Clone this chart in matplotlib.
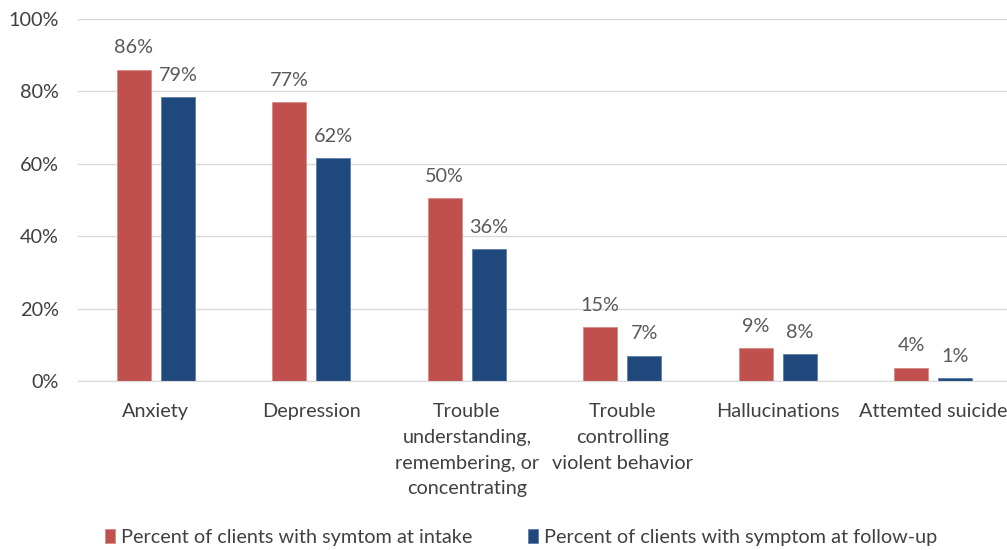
import matplotlib
matplotlib.use("Agg")
import matplotlib.pyplot as plt
import numpy as np

categories = ["Anxiety", "Depression",
              "Trouble\nunderstanding,\nremembering, or\nconcentrating",
              "Trouble\ncontrolling\nviolent behavior",
              "Hallucinations", "Attemted suicide"]
intake = [0.86, 0.77, 0.505, 0.15, 0.09, 0.037]
followup = [0.785, 0.615, 0.365, 0.07, 0.075, 0.007]
intake_labels = ["86%", "77%", "50%", "15%", "9%", "4%"]
followup_labels = ["79%", "62%", "36%", "7%", "8%", "1%"]
series_names = ["Percent of clients with symtom at intake",
                "Percent of clients with symptom at follow-up"]

red = "#C0504D"
blue = "#1F497D"
gray = "#595959"
dark = "#404040"
plt.rcParams['font.family'] = ['Lato', 'DejaVu Sans']
fs = 14.3

fig = plt.figure(figsize=(10.07, 5.5), dpi=100)
ax = fig.add_axes([78/1007, 1-381/550, 933/1007, 362/550])

x = np.arange(len(categories))
w = 0.22
off = 0.142
b1 = ax.bar(x - off, intake, w, color=red, edgecolor="#d98a88", linewidth=0.6, label=series_names[0], zorder=3)
b2 = ax.bar(x + off, followup, w, color=blue, edgecolor="#5f7fa8", linewidth=0.6, label=series_names[1], zorder=3)

for xi, v, l in zip(x - off, intake, intake_labels):
    ax.annotate(l, (xi, v), xytext=(0, 9.5), textcoords="offset points", ha="center", va="bottom",
                fontsize=fs, color=gray)
for xi, v, l in zip(x + off, followup, followup_labels):
    ax.annotate(l, (xi, v), xytext=(0, 9.5), textcoords="offset points", ha="center", va="bottom",
                fontsize=fs, color=gray)

ax.set_xlim(-0.5, len(categories) - 0.5)
ax.set_ylim(0, 1.0)
ticks = np.arange(0, 1.01, 0.2)
ax.set_yticks(ticks)
ax.set_yticklabels([f"{int(round(t*100))}%" for t in ticks])
ax.set_xticks(x)
ax.set_xticklabels(categories, linespacing=1.62)
ax.tick_params(axis='both', length=0, labelsize=fs, labelcolor=dark)
ax.tick_params(axis='x', pad=16)
ax.tick_params(axis='y', pad=14)
ax.grid(axis='y', color="#d9d9d9", linewidth=1, zorder=0)
for s in ["top", "right", "left"]:
    ax.spines[s].set_visible(False)
ax.spines["bottom"].set_color("#d9d9d9")
ax.spines["bottom"].set_zorder(4)

fig.legend(handles=[b1, b2], labels=series_names, loc="center", bbox_to_anchor=(521/1007, 1-537/550),
           ncol=2, frameon=False, fontsize=fs, handlelength=0.5, handleheight=0.7,
           handletextpad=0.3, columnspacing=2.8, labelcolor=dark)

fig.savefig("out.png", dpi=100)
